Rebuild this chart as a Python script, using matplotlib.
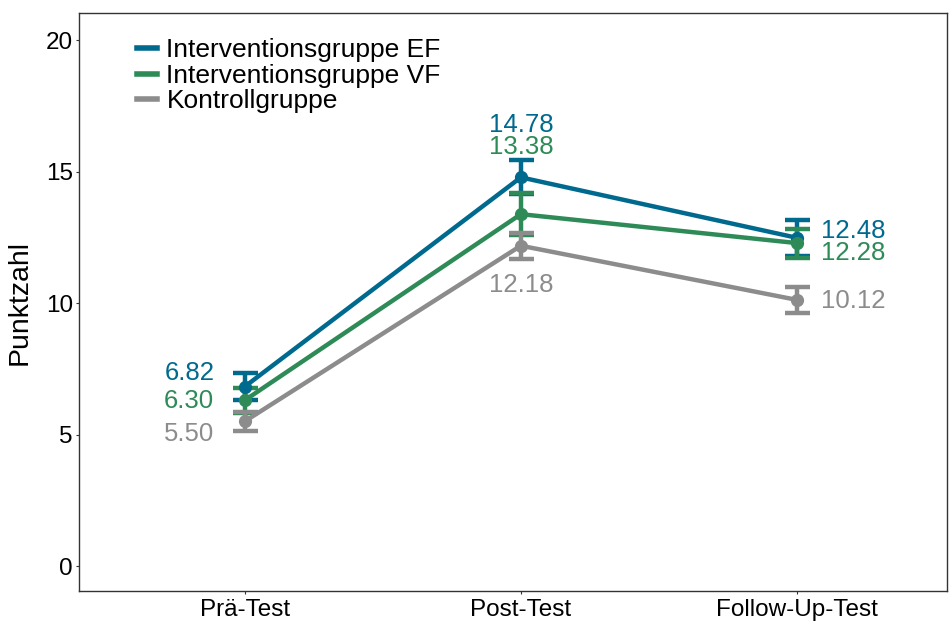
import numpy as np
import matplotlib.pyplot as plt
from matplotlib.lines import Line2D

plt.rcParams['font.family'] = ['Liberation Sans', 'DejaVu Sans']

phases = ['Prä-Test', 'Post-Test', 'Follow-Up-Test']
groups = ['Interventionsgruppe EF', 'Interventionsgruppe VF', 'Kontrollgruppe']
colors = ['#006A8E', '#2E8B57', '#8C8C8C']

means = [
    [6.82, 14.78, 12.48],
    [6.30, 13.38, 12.28],
    [5.50, 12.18, 10.12],
]
errors = [
    [0.52, 0.65, 0.68],
    [0.47, 0.80, 0.55],
    [0.35, 0.50, 0.50],
]

x = np.arange(1, len(phases) + 1)

fig = plt.figure(figsize=(9.49, 6.22), dpi=100)
ax = fig.add_axes([79 / 949, 1 - 591 / 622, (947 - 79) / 949, (591 - 13) / 622])

for m, e, c, g in zip(means, errors, colors, groups):
    ax.errorbar(x, m, yerr=e, color=c, lw=3.2, marker='o', markersize=8.5,
                capsize=9, capthick=3.2, elinewidth=3.2, label=g)

# value labels: (group, phase) -> offset in data units
label_offsets = {
    (0, 0): 0.52, (1, 0): -0.03, (2, 0): -0.48,
    (0, 1): 2.0, (1, 1): 2.55, (2, 1): -1.5,
    (0, 2): 0.26, (1, 2): -0.38, (2, 2): -0.04,
}
for (gi, pi), dy in label_offsets.items():
    val = means[gi][pi]
    if pi == 0:
        ax.text(x[pi] - 0.11, val + dy, f'{val:.2f}', color=colors[gi],
                fontsize=18.5, ha='right', va='center')
    elif pi == 1:
        ax.text(x[pi], val + dy, f'{val:.2f}', color=colors[gi],
                fontsize=18.5, ha='center', va='center')
    else:
        ax.text(x[pi] + 0.085, val + dy, f'{val:.2f}', color=colors[gi],
                fontsize=18.5, ha='left', va='center')

ax.set_xlim(0.4, 3.543)
ax.set_ylim(-0.95, 21.03)
ax.set_xticks(x)
ax.set_xticklabels(phases, fontsize=17.5)
ax.set_yticks([0, 5, 10, 15, 20])
ax.tick_params(axis='y', labelsize=17.5, length=2.5, color='#333333', pad=2)
ax.tick_params(axis='x', length=2.5, color='#333333', pad=3.5)
ax.set_ylabel('Punktzahl', fontsize=20.5, labelpad=9)
for s in ax.spines.values():
    s.set_color('#333333')
    s.set_linewidth(1)

handles = [Line2D([], [], color=c, lw=4) for c in colors]
ax.legend(handles, groups, loc='upper left', bbox_to_anchor=(0.04, 0.997),
          frameon=False, fontsize=19, handlelength=0.75, handletextpad=0.35,
          labelspacing=0.05)

fig.savefig('out.png', dpi=100)
